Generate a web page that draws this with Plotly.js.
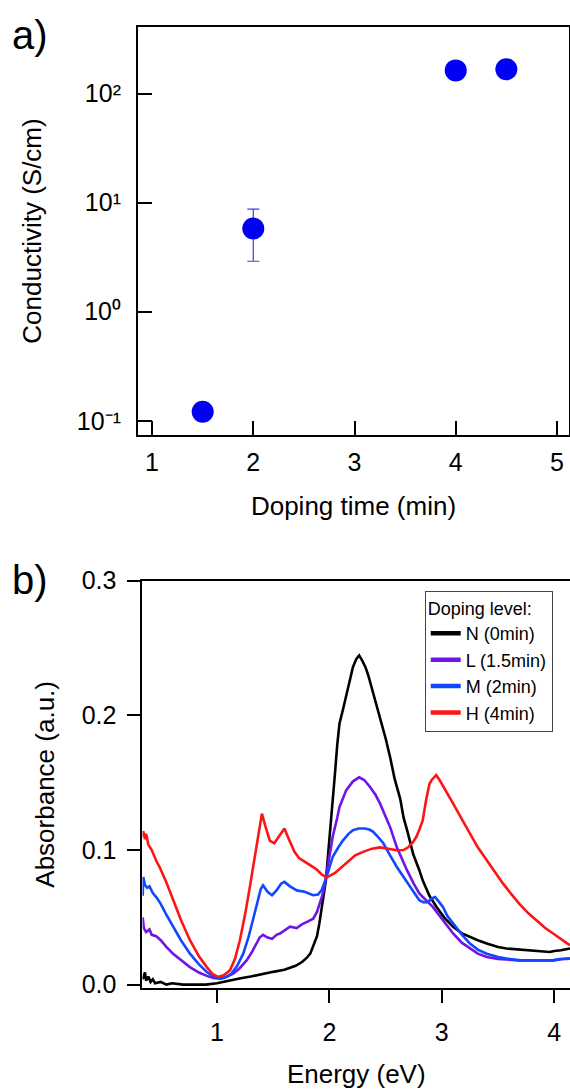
<!DOCTYPE html>
<html>
<head>
<meta charset="utf-8">
<script src="https://cdn.plot.ly/plotly-3.0.1.min.js"></script>
<style>html,body{margin:0;padding:0;background:#fff;}#plot{width:570px;height:1090px;}</style>
</head>
<body>
<div id="plot"></div>
<script>
// ---------- Panel a: conductivity vs doping time ----------
const dopingTime = [1.5, 2, 4, 4.5];
const conductivity = [0.121, 5.8, 163, 167];
const conductivityErr = [null, 2.9, null, null];
const condTickVals = [0.1, 1, 10, 100];
const condTickText = ['10⁻¹', '10⁰', '10¹', '10²'];
const timeTickVals = [1, 2, 3, 4, 5];

// ---------- Panel b: absorbance spectra ----------
const energyN = [0.34,0.36,0.37,0.39,0.41,0.43,0.45,0.50,0.55,0.60,0.70,0.80,0.90,1.00,1.10,1.20,1.30,1.40,1.50,1.60,1.70,1.76,1.80,1.83,1.86,1.89,1.91,1.93,1.95,1.97,1.99,2.01,2.03,2.05,2.07,2.09,2.12,2.15,2.18,2.21,2.24,2.265,2.29,2.32,2.345,2.40,2.45,2.50,2.54,2.58,2.63,2.66,2.70,2.745,2.80,2.83,2.89,2.95,3.02,3.10,3.18,3.25,3.32,3.40,3.50,3.575,3.70,3.84,3.96,4.00,4.06,4.14];
const absN = [0.004,0.009,0.003,0.006,0.002,0.004,0.001,0.002,0.000,0.001,0.000,0.000,0.000,0.001,0.003,0.0045,0.006,0.008,0.0095,0.011,0.014,0.017,0.020,0.023,0.029,0.036,0.045,0.055,0.066,0.078,0.098,0.120,0.140,0.157,0.178,0.194,0.204,0.214,0.226,0.236,0.242,0.2445,0.241,0.236,0.230,0.214,0.199,0.183,0.169,0.153,0.138,0.124,0.112,0.097,0.085,0.0775,0.066,0.058,0.050,0.043,0.038,0.0354,0.033,0.0305,0.028,0.0268,0.026,0.0255,0.0242,0.025,0.0255,0.0268];

const energyL = [0.34,0.35,0.37,0.40,0.42,0.46,0.50,0.55,0.61,0.68,0.76,0.84,0.91,0.97,1.03,1.09,1.145,1.20,1.264,1.31,1.35,1.38,1.41,1.45,1.49,1.53,1.56,1.60,1.65,1.71,1.76,1.81,1.856,1.89,1.916,1.94,1.96,1.99,2.03,2.07,2.09,2.15,2.21,2.265,2.31,2.36,2.41,2.45,2.51,2.54,2.60,2.65,2.69,2.75,2.80,2.86,2.92,3.00,3.10,3.18,3.25,3.32,3.40,3.50,3.69,3.84,3.99,4.08,4.14];
const absL = [0.050,0.042,0.039,0.041,0.037,0.036,0.033,0.028,0.023,0.018,0.013,0.009,0.0065,0.005,0.0045,0.006,0.0082,0.012,0.018,0.024,0.031,0.035,0.037,0.035,0.034,0.037,0.038,0.040,0.043,0.042,0.045,0.047,0.049,0.054,0.060,0.067,0.075,0.090,0.110,0.124,0.132,0.1445,0.151,0.154,0.152,0.147,0.141,0.1346,0.122,0.117,0.102,0.092,0.085,0.075,0.0677,0.0627,0.0577,0.049,0.038,0.031,0.0268,0.023,0.0205,0.019,0.018,0.0178,0.018,0.019,0.0193];

const energyM = [0.34,0.345,0.36,0.38,0.40,0.43,0.46,0.50,0.55,0.61,0.68,0.76,0.84,0.91,0.97,1.03,1.08,1.13,1.18,1.234,1.28,1.32,1.36,1.39,1.41,1.45,1.49,1.53,1.57,1.60,1.65,1.71,1.78,1.856,1.90,1.93,1.975,2.03,2.08,2.12,2.17,2.21,2.26,2.315,2.36,2.39,2.44,2.48,2.54,2.60,2.66,2.72,2.76,2.80,2.84,2.88,2.91,2.94,2.97,3.01,3.05,3.10,3.18,3.25,3.32,3.40,3.50,3.575,3.70,3.84,3.99,4.05,4.14];
const absM = [0.066,0.080,0.074,0.072,0.073,0.068,0.065,0.060,0.052,0.043,0.033,0.023,0.015,0.0094,0.006,0.0045,0.0055,0.0082,0.014,0.023,0.035,0.048,0.062,0.071,0.0738,0.069,0.0664,0.070,0.075,0.0763,0.073,0.070,0.069,0.0664,0.067,0.070,0.080,0.095,0.102,0.107,0.112,0.1147,0.116,0.116,0.115,0.1135,0.109,0.105,0.096,0.0874,0.080,0.0726,0.067,0.0627,0.061,0.0614,0.064,0.065,0.062,0.0577,0.051,0.0453,0.037,0.0305,0.026,0.023,0.0205,0.0193,0.018,0.018,0.018,0.019,0.0193];

const energyH = [0.34,0.345,0.36,0.37,0.39,0.42,0.46,0.49,0.55,0.61,0.68,0.76,0.84,0.91,0.96,1.01,1.06,1.116,1.16,1.204,1.25,1.293,1.33,1.367,1.40,1.43,1.47,1.51,1.55,1.60,1.64,1.69,1.73,1.80,1.88,1.93,1.975,2.05,2.15,2.23,2.30,2.38,2.45,2.52,2.60,2.66,2.70,2.745,2.775,2.80,2.83,2.86,2.89,2.91,2.95,2.98,3.03,3.10,3.17,3.25,3.32,3.40,3.47,3.545,3.62,3.69,3.77,3.84,3.92,3.99,4.07,4.14];
const absH = [0.110,0.114,0.108,0.112,0.104,0.100,0.092,0.0874,0.076,0.063,0.048,0.033,0.021,0.013,0.008,0.0057,0.007,0.0106,0.019,0.033,0.052,0.0726,0.092,0.111,0.127,0.118,0.107,0.105,0.110,0.116,0.108,0.0986,0.094,0.090,0.086,0.082,0.0795,0.083,0.090,0.096,0.0986,0.101,0.1019,0.101,0.0998,0.100,0.102,0.106,0.110,0.115,0.122,0.137,0.149,0.152,0.1556,0.152,0.145,0.1346,0.124,0.112,0.102,0.0924,0.084,0.075,0.067,0.060,0.053,0.0478,0.042,0.038,0.033,0.0292];

const seriesNames = ['N (0min)', 'L (1.5min)', 'M (2min)', 'H (4min)'];
const seriesColors = ['#000000', '#7014E8', '#1148FF', '#FF1414'];
const energyTickVals = [1, 2, 3, 4];
const absTickVals = [0, 0.1, 0.2, 0.3];
const absTickText = ['0.0', '0.1', '0.2', '0.3'];

const FONT = 'Liberation Sans, Arial, Helvetica, sans-serif';
const spectra = [[energyN, absN], [energyL, absL], [energyM, absM], [energyH, absH]];

const traces = [{
  x: dopingTime, y: conductivity, type: 'scatter', mode: 'markers',
  xaxis: 'x', yaxis: 'y', showlegend: false,
  marker: {size: 22, color: '#0000F2'},
  error_y: {type: 'data', array: conductivityErr, visible: true, color: '#3A3AFF', thickness: 1.2, width: 6}
}];
spectra.forEach((s, i) => {
  traces.push({
    x: s[0], y: s[1], type: 'scatter', mode: 'lines', name: seriesNames[i],
    xaxis: 'x2', yaxis: 'y2', legendgroup: 'g' + i, showlegend: false,
    line: {color: seriesColors[i], width: 2.6}
  });
});
// legend entries with thicker swatches (no data drawn)
seriesNames.forEach((nm, i) => {
  traces.push({
    x: [null], y: [null], type: 'scatter', mode: 'lines', name: nm,
    xaxis: 'x2', yaxis: 'y2', legendgroup: 'g' + i, showlegend: true,
    line: {color: seriesColors[i], width: 4.5}
  });
});

const H = 961; // plot area height
const axCommon = {showgrid: false, zeroline: false, showline: true, linecolor: '#000', linewidth: 2,
  tickcolor: '#000', tickwidth: 2, tickfont: {family: FONT, size: 25, color: '#000'}};

const layout = {
  width: 570, height: 1090,
  margin: {l: 138, r: 0, t: 27, b: 102},
  paper_bgcolor: '#fff', plot_bgcolor: '#fff',
  font: {family: FONT, color: '#000'},
  xaxis: Object.assign({}, axCommon, {
    domain: [0, 0.9977], anchor: 'y', range: [0.861, 5.119],
    tickvals: timeTickVals, ticks: 'inside', ticklen: 14, mirror: true, ticklabelstandoff: 4,
    title: {text: 'Doping time (min)', font: {family: FONT, size: 26}, standoff: 22}
  }),
  yaxis: Object.assign({}, axCommon, {
    domain: [0.5754, 1], anchor: 'x', type: 'log', range: [-1.131, 2.61],
    tickvals: condTickVals, ticktext: condTickText, ticks: 'inside', ticklen: 14, mirror: true, ticklabelstandoff: 10,
    title: {text: 'Conductivity (S/cm)', font: {family: FONT, size: 26}, standoff: 28}
  }),
  xaxis2: Object.assign({}, axCommon, {
    domain: [0.0104, 1], anchor: 'y2', range: [0.338, 4.14],
    tickvals: energyTickVals, ticks: 'outside', ticklen: 13, mirror: true, ticklabelstandoff: 8,
    title: {text: 'Energy (eV)', font: {family: FONT, size: 26}, standoff: 20}
  }),
  yaxis2: Object.assign({}, axCommon, {
    domain: [0, 0.4238], anchor: 'x2', range: [-0.0025, 0.3],
    tickvals: absTickVals, ticktext: absTickText, ticks: 'outside', ticklen: 13, mirror: false, ticklabelstandoff: 6,
    title: {text: 'Absorbance (a.u.)', font: {family: FONT, size: 26}, standoff: 20}
  }),
  legend: {
    x: 0.6637, y: 0.4134, xanchor: 'left', yanchor: 'top',
    bgcolor: '#fff', bordercolor: '#444', borderwidth: 1,
    font: {family: FONT, size: 18, color: '#000'},
    title: {text: 'Doping level:', font: {family: FONT, size: 18}},
    itemwidth: 30, tracegroupgap: 0
  },
  annotations: [
    {text: 'a)', xref: 'paper', yref: 'paper', x: -0.296, y: 0.9917, xanchor: 'left', yanchor: 'middle',
     showarrow: false, font: {family: FONT, size: 40, color: '#000'}},
    {text: 'b)', xref: 'paper', yref: 'paper', x: -0.296, y: (988 - 580) / H, xanchor: 'left', yanchor: 'middle',
     showarrow: false, font: {family: FONT, size: 40, color: '#000'}}
  ]
};

Plotly.newPlot('plot', traces, layout, {displayModeBar: false, staticPlot: true});
</script>
</body>
</html>
